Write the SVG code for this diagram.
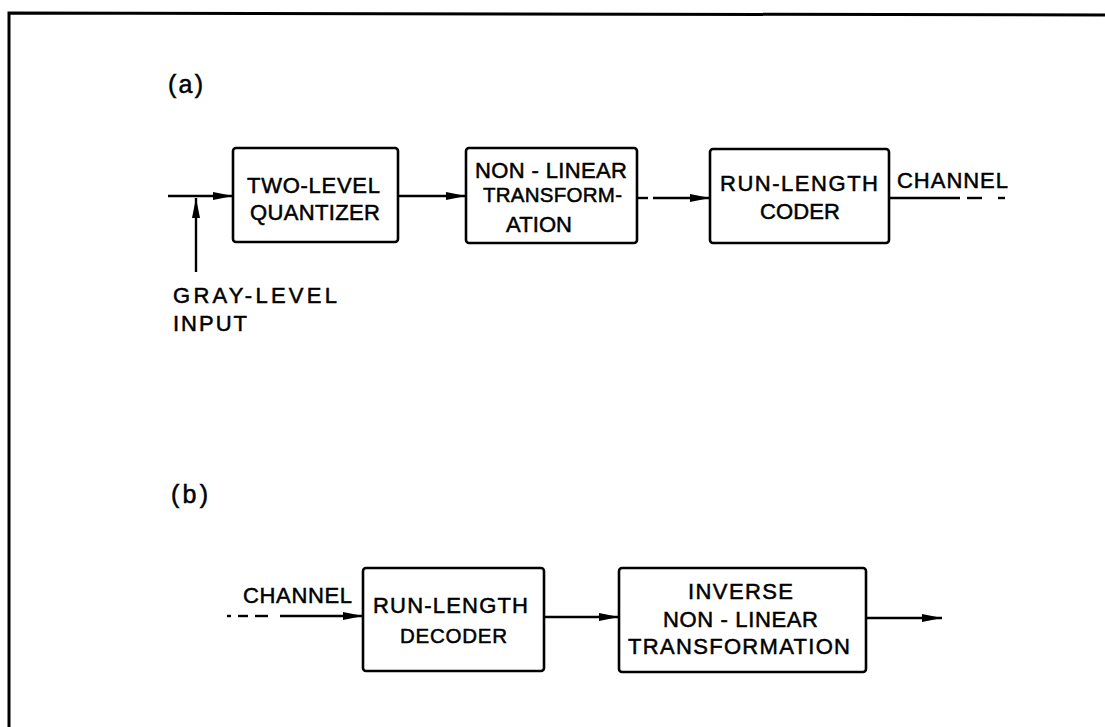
<svg xmlns="http://www.w3.org/2000/svg" width="1105" height="727" viewBox="0 0 1105 727">
<defs>
<style>
.box{fill:#fff;stroke:#000;stroke-width:2.6}
.ln{fill:none;stroke:#000;stroke-width:2.4}
.frame{fill:none;stroke:#000;stroke-width:3}
text{font-family:"Liberation Sans",Arial,sans-serif;font-size:22px;fill:#000;stroke:#000;stroke-width:0.5}
.big{font-size:25px}
.sm{font-size:20.5px}
</style>
<marker id="ah" viewBox="0 0 20 9" refX="20" refY="4.5" markerWidth="20" markerHeight="9" markerUnits="userSpaceOnUse" orient="auto">
<path d="M0,0.5 L20,4.5 L0,8.5 z" fill="#000"/>
</marker>
</defs>
<rect width="1105" height="727" fill="#fff"/>
<path class="frame" d="M9,727 L9,13 L1105,15"/>

<g id="labels">
<text class="big" x="168" y="93" textLength="35">(a)</text>
<text class="big" x="171" y="503" textLength="37">(b)</text>
<text x="173" y="303" textLength="164">GRAY-LEVEL</text>
<text x="173" y="331" textLength="74">INPUT</text>
<text x="897" y="188" textLength="111">CHANNEL</text>
<text x="243" y="603" textLength="109">CHANNEL</text>
</g>

<g id="quantizer">
<rect class="box" x="233" y="148" width="165" height="94" rx="3"/>
<text x="247" y="193" textLength="133">TWO-LEVEL</text>
<text x="250" y="220" textLength="130">QUANTIZER</text>
</g>

<g id="nonlinear">
<rect class="box" x="466" y="148" width="171" height="95" rx="3"/>
<text x="475" y="178" textLength="152">NON - LINEAR</text>
<text class="sm" x="483" y="202" textLength="139">TRANSFORM-</text>
<text x="506" y="232" textLength="66">ATION</text>
</g>

<g id="coder">
<rect class="box" x="710" y="149" width="179" height="94" rx="3"/>
<text x="720" y="191" textLength="158">RUN-LENGTH</text>
<text x="760" y="219" textLength="80">CODER</text>
</g>

<g id="decoder">
<rect class="box" x="363" y="568" width="181" height="103" rx="3"/>
<text x="373" y="613" textLength="155">RUN-LENGTH</text>
<text class="sm" x="400" y="643" textLength="107">DECODER</text>
</g>

<g id="inverse">
<rect class="box" x="619" y="568" width="247" height="104" rx="3"/>
<text x="688" y="599" textLength="105">INVERSE</text>
<text x="663" y="627" textLength="155">NON - LINEAR</text>
<text x="628" y="654" textLength="222">TRANSFORMATION</text>
</g>

<g id="connectors">
<line class="ln" x1="168" y1="196" x2="233" y2="196" marker-end="url(#ah)"/>
<line class="ln" x1="196" y1="272" x2="196" y2="198" marker-end="url(#ah)"/>
<line class="ln" x1="398" y1="196" x2="466" y2="196" marker-end="url(#ah)"/>
<line class="ln" x1="638" y1="198" x2="648" y2="198"/>
<line class="ln" x1="653" y1="198" x2="710" y2="198" marker-end="url(#ah)"/>
<line class="ln" x1="889" y1="198" x2="960" y2="198"/>
<line class="ln" x1="967" y1="198" x2="982" y2="198"/>
<line class="ln" x1="998" y1="198" x2="1005" y2="198"/>
<line class="ln" x1="227" y1="616" x2="231" y2="616"/>
<line class="ln" x1="238" y1="616" x2="248" y2="616"/>
<line class="ln" x1="255" y1="616" x2="268" y2="616"/>
<line class="ln" x1="280" y1="616" x2="363" y2="616" marker-end="url(#ah)"/>
<line class="ln" x1="544" y1="617" x2="619" y2="617" marker-end="url(#ah)"/>
<line class="ln" x1="866" y1="618" x2="942" y2="618" marker-end="url(#ah)"/>
</g>
</svg>
